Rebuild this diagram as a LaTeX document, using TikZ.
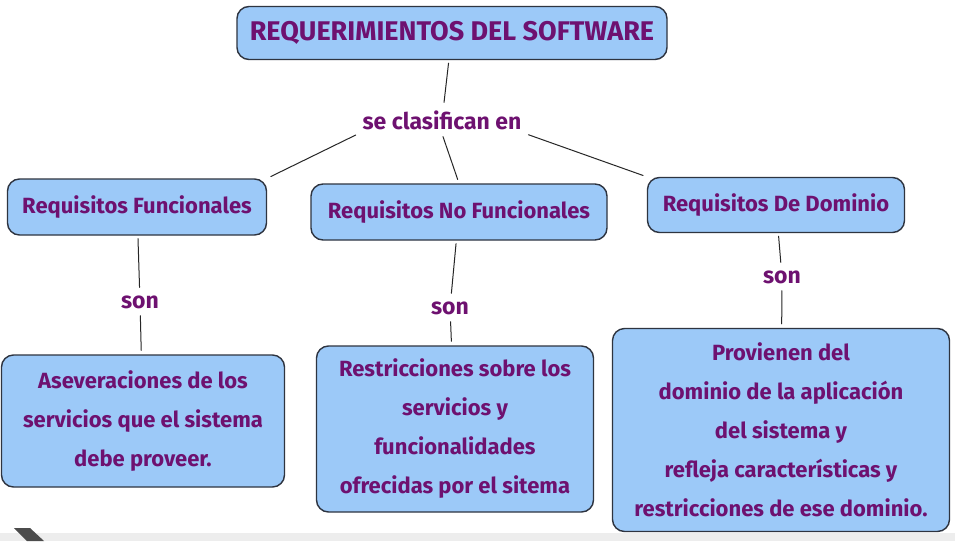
\documentclass[tikz,border=0pt]{standalone}
\usepackage{fontspec}
\setmainfont{Fira Sans}
\definecolor{boxblue}{HTML}{9CC9F8}
\definecolor{boxline}{HTML}{2E3440}
\definecolor{txtpurple}{HTML}{6E1170}
\begin{document}
\begin{tikzpicture}[x=1pt, y=-1pt, line cap=round,
  concept/.style={draw=boxline, fill=boxblue, rounded corners=12pt, line width=1.4pt,
                  text=txtpurple, align=center, inner sep=0pt,
                  font=\bfseries\fontsize{22}{39}\selectfont},
  linkword/.style={text=txtpurple, inner sep=4pt, font=\bfseries\fontsize{23}{26}\selectfont},
  link/.style={line width=1pt, draw=black!85, shorten <=3pt, shorten >=4pt}]
  % page and screenshot strip
  \useasboundingbox (0,0) rectangle (955,541);
  \fill[white] (0,0) rectangle (955,541);
  \fill[black!7] (0,533) rectangle (955,541);
  \fill[black!70] (14,528) -- (30,528) -- (44,541) -- (27,541) -- cycle;
  % concepts
  \node[concept, minimum width=430, minimum height=53, font=\bfseries\fontsize{27}{30}\selectfont]
    (req) at (452,33) {REQUERIMIENTOS DEL SOFTWARE};
  \node[concept, minimum width=259, minimum height=56] (rf) at (137,207) {Requisitos Funcionales};
  \node[concept, minimum width=296, minimum height=56] (rnf) at (459,212) {Requisitos No Funcionales};
  \node[concept, minimum width=257, minimum height=55] (rdd) at (776,205) {Requisitos De Dominio};
  \node[concept, minimum width=283, minimum height=132] (ase) at (143,421)
    {Aseveraciones de los\\ servicios que el sistema\\ debe proveer.};
  \node[concept, minimum width=277, minimum height=166] (res) at (455,429)
    {Restricciones sobre los\\ servicios y\\ funcionalidades\\ ofrecidas por el sitema};
  \node[concept, minimum width=337, minimum height=203] (pro) at (781,430)
    {Provienen del\\ dominio de la aplicación\\ del sistema y\\ refleja características y\\ restricciones de ese dominio.};
  % linking words
  \node[linkword] (clas) at (442,120) {se clasifican en};
  \node[linkword] (son1) at (140,302) {son};
  \node[linkword] (son2) at (450,308) {son};
  \node[linkword] (son3) at (782,277) {son};
  % connectors
  \draw[link] (req) -- (clas);
  \draw[link] (clas.south west) -- (rf.north east);
  \draw[link] (clas.south) -- (rnf.north);
  \draw[link] (clas.south east) -- (rdd.north west);
  \draw[link] (rf) -- (son1);
  \draw[link] (son1) -- (ase);
  \draw[link] (rnf) -- (son2);
  \draw[link] (son2) -- (res);
  \draw[link] (rdd) -- (son3);
  \draw[link] (son3) -- (pro);
\end{tikzpicture}
\end{document}
